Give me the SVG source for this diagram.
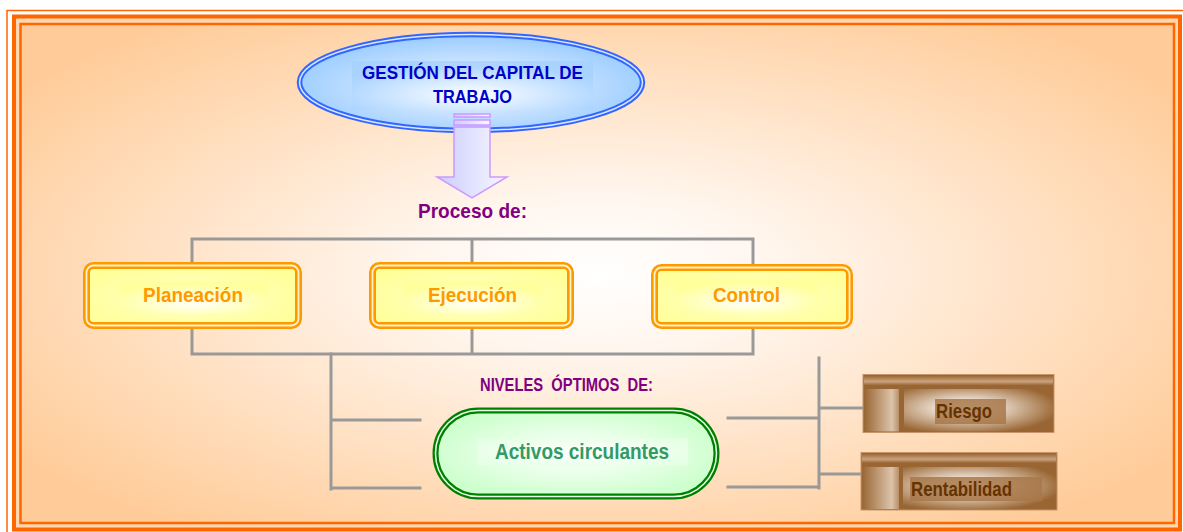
<svg xmlns="http://www.w3.org/2000/svg" width="1183" height="532" viewBox="0 0 1183 532">
<style>
.t{font-family:"Liberation Sans Narrow","Liberation Sans",Arial,sans-serif;font-weight:bold;text-anchor:middle}
.conn{fill:none;stroke:#999999;stroke-width:3;stroke-linecap:square;stroke-linejoin:miter}
.ybox{stroke:#FF9900;stroke-width:7;fill:url(#yel)}
.yin{fill:none;stroke:#FFF3C8;stroke-width:1.8}
.brown{fill:#996633;stroke:#C8956A;stroke-width:1}
</style>
<defs>
<radialGradient id="bg" cx="0.5" cy="0.5" r="0.62">
<stop offset="0" stop-color="#FFFFFF"/>
<stop offset="0.25" stop-color="#FFF6EE"/>
<stop offset="1" stop-color="#FFCC99"/>
</radialGradient>
<radialGradient id="blue" cx="0.5" cy="0.55" r="0.55">
<stop offset="0" stop-color="#FFFFFF"/>
<stop offset="0.5" stop-color="#C8E2FF"/>
<stop offset="1" stop-color="#99CCFF"/>
</radialGradient>
<radialGradient id="bluetxt" cx="0.5" cy="0.7" r="0.6">
<stop offset="0" stop-color="#FFFFFF"/>
<stop offset="1" stop-color="#A6D2FF"/>
</radialGradient>
<linearGradient id="arrow" x1="0" y1="0" x2="1" y2="0">
<stop offset="0" stop-color="#CCCCFF"/>
<stop offset="1" stop-color="#F8F8FF"/>
</linearGradient>
<radialGradient id="yel" cx="0.5" cy="0.55" r="0.6">
<stop offset="0" stop-color="#FFFFF0"/>
<stop offset="0.5" stop-color="#FFFFB0"/>
<stop offset="1" stop-color="#FFFF99"/>
</radialGradient>
<radialGradient id="yeltxt" cx="0.5" cy="0.7" r="0.6">
<stop offset="0" stop-color="#FFFFFF"/>
<stop offset="1" stop-color="#FFFF99"/>
</radialGradient>
<radialGradient id="green" cx="0.5" cy="0.5" r="0.55">
<stop offset="0" stop-color="#FFFFFF"/>
<stop offset="0.5" stop-color="#E6FFE6"/>
<stop offset="1" stop-color="#CCFFCC"/>
</radialGradient>
<radialGradient id="greentxt" cx="0.5" cy="0.5" r="0.6">
<stop offset="0" stop-color="#FFFFFF"/>
<stop offset="1" stop-color="#E6FFE6"/>
</radialGradient>
<linearGradient id="btop" x1="0" y1="0" x2="0" y2="1">
<stop offset="0" stop-color="#996633"/>
<stop offset="0.6" stop-color="#C9A27E"/>
<stop offset="1" stop-color="#996633"/>
</linearGradient>
<linearGradient id="bleft" x1="0" y1="0" x2="1" y2="0">
<stop offset="0" stop-color="#996633"/>
<stop offset="0.8" stop-color="#DCC3AA"/>
<stop offset="1" stop-color="#B8906A"/>
</linearGradient>
<radialGradient id="bmain" cx="0.42" cy="0.45" r="0.62">
<stop offset="0" stop-color="#FFFFFF"/>
<stop offset="0.35" stop-color="#E8D8C8"/>
<stop offset="1" stop-color="#996633"/>
</radialGradient>
</defs>

<rect x="0" y="0" width="1183" height="532" fill="#FFFFFF"/>
<g id="frame">
<rect x="7" y="10.5" width="1200" height="540" fill="none" stroke="#FF6600" stroke-width="1.5"/>
<rect x="14" y="16.5" width="1166" height="513" fill="#FFD7B0" stroke="#FF6600" stroke-width="4"/>
<rect x="20.5" y="24" width="1153.5" height="499" fill="url(#bg)" stroke="#FF6600" stroke-width="2.5"/>
</g>

<g id="connectors">
<path class="conn" d="M192,263 V239 H753 V263 M472,239 V263"/>
<path class="conn" d="M192,329 V354 H753 V329 M472,329 V354"/>
<path class="conn" d="M331,354 V489 M331,420 H420 M331,488 H420"/>
<path class="conn" d="M728,418 H819 M728,487 H819 M819,358 V488 M819,408 H862 M819,474 H861"/>
</g>

<g id="titulo">
<ellipse cx="471" cy="82.5" rx="171.5" ry="48" fill="url(#blue)" stroke="#3366FF" stroke-width="5.5"/>
<ellipse cx="471" cy="82.5" rx="171.5" ry="48" fill="none" stroke="#D8E8FF" stroke-width="1.5"/>
<rect x="352" y="61" width="241" height="49" fill="url(#bluetxt)" opacity="0.85"/>
<text class="t" x="472.5" y="79" font-size="19" fill="#0000CC" textLength="221" lengthAdjust="spacingAndGlyphs">GESTIÓN DEL CAPITAL DE</text>
<text class="t" x="472.5" y="103" font-size="19" fill="#0000CC" textLength="79" lengthAdjust="spacingAndGlyphs">TRABAJO</text>
</g>

<g id="flecha">
<rect x="454" y="114" width="36" height="3" fill="url(#arrow)" stroke="#CC99FF" stroke-width="1.5"/>
<rect x="454" y="120" width="36" height="5" fill="url(#arrow)" stroke="#CC99FF" stroke-width="1.5"/>
<path d="M454,127 H490 V177 H507 L472,198 L437,177 H454 Z" fill="url(#arrow)" stroke="#CC99FF" stroke-width="1.5"/>
</g>

<g id="proceso">
<text class="t" x="472.5" y="217.7" font-size="21" fill="#800080" textLength="109" lengthAdjust="spacingAndGlyphs">Proceso de:</text>
</g>

<g id="planeacion">
<rect class="ybox" x="86.5" y="265.5" width="212" height="60" rx="7"/>
<rect class="yin" x="86.5" y="265.5" width="212" height="60" rx="7"/>
<rect x="119" y="281" width="149" height="32" fill="url(#yeltxt)" opacity="0.8"/>
<text class="t" x="193" y="302" font-size="21" fill="#FF9900" textLength="100" lengthAdjust="spacingAndGlyphs">Planeación</text>
</g>

<g id="ejecucion">
<rect class="ybox" x="372.5" y="265.5" width="198" height="60" rx="7"/>
<rect class="yin" x="372.5" y="265.5" width="198" height="60" rx="7"/>
<rect x="403" y="281" width="139" height="32" fill="url(#yeltxt)" opacity="0.8"/>
<text class="t" x="472.5" y="302" font-size="21" fill="#FF9900" textLength="89" lengthAdjust="spacingAndGlyphs">Ejecución</text>
</g>

<g id="control">
<rect class="ybox" x="654.5" y="267.5" width="195" height="58" rx="7"/>
<rect class="yin" x="654.5" y="267.5" width="195" height="58" rx="7"/>
<rect x="675" y="279" width="143" height="33" fill="url(#yeltxt)" opacity="0.8"/>
<text class="t" x="746.5" y="301.7" font-size="21" fill="#FF9900" textLength="67" lengthAdjust="spacingAndGlyphs">Control</text>
</g>

<g id="niveles">
<text class="t" x="566.5" y="391" font-size="17.5" fill="#800080" textLength="173" lengthAdjust="spacingAndGlyphs" xml:space="preserve">NIVELES  ÓPTIMOS  DE:</text>
</g>

<g id="activos">
<rect x="435.5" y="410.5" width="281" height="86" rx="43" fill="url(#green)" stroke="#008000" stroke-width="6"/>
<rect x="435.5" y="410.5" width="281" height="86" rx="43" fill="none" stroke="#E6FFE6" stroke-width="1.5"/>
<rect x="477" y="438" width="211" height="28" fill="url(#greentxt)" opacity="0.9"/>
<text class="t" x="582" y="459.3" font-size="22" fill="#339966" textLength="174" lengthAdjust="spacingAndGlyphs">Activos circulantes</text>
</g>

<g id="riesgo">
<rect class="brown" x="863" y="374.5" width="191" height="58"/>
<rect x="864" y="375.5" width="189" height="10" fill="url(#btop)"/>
<rect x="864" y="389" width="35" height="42.5" fill="url(#bleft)"/>
<rect x="904" y="389" width="149" height="42.5" fill="url(#bmain)"/>
<rect x="935" y="399" width="71" height="25" fill="#A8784A" opacity="0.85"/>
<text class="t" x="964" y="418" font-size="21" fill="#663300" textLength="56" lengthAdjust="spacingAndGlyphs">Riesgo</text>
</g>

<g id="rentabilidad">
<rect class="brown" x="861" y="452.5" width="196" height="57.5"/>
<rect x="862" y="453.5" width="194" height="9.5" fill="url(#btop)"/>
<rect x="862" y="467" width="37" height="42" fill="url(#bleft)"/>
<rect x="903" y="467" width="153" height="42" fill="url(#bmain)"/>
<rect x="910" y="477" width="132" height="24" fill="#A8784A" opacity="0.85"/>
<text class="t" x="961.5" y="496" font-size="21" fill="#663300" textLength="101" lengthAdjust="spacingAndGlyphs">Rentabilidad</text>
</g>
</svg>
